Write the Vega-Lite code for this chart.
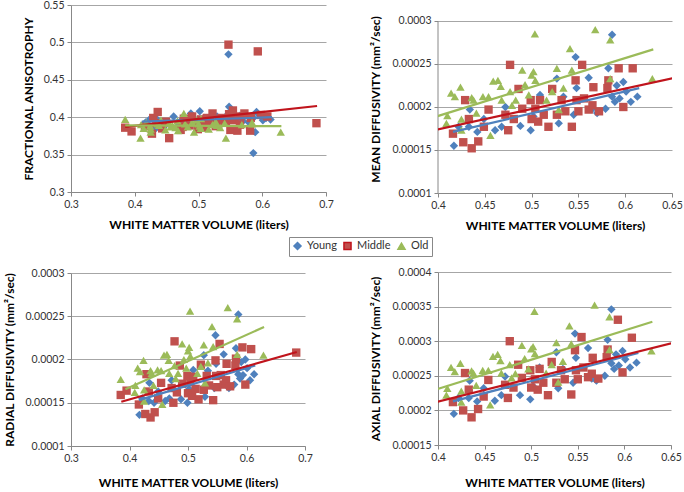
{
"$schema":"https://vega.github.io/schema/vega-lite/v6.json",
"padding":{"left":3,"top":0,"right":2,"bottom":0},
"spacing":35,
"datasets":{
"subjects":[
{"g":"Young","wmv":0.417,"fa":0.393,"md":0.000155,"rd":0.000136,"ad":0.000195},
{"g":"Young","wmv":0.422,"fa":0.396,"md":0.000177,"rd":0.000155,"ad":0.000218},
{"g":"Young","wmv":0.434,"fa":0.398,"md":0.000197,"rd":0.000173,"ad":0.000243},
{"g":"Young","wmv":0.433,"fa":0.385,"md":0.000177,"rd":0.000152,"ad":0.000218},
{"g":"Young","wmv":0.442,"fa":0.392,"md":0.000171,"rd":0.000150,"ad":0.000213},
{"g":"Young","wmv":0.449,"fa":0.390,"md":0.000186,"rd":0.000163,"ad":0.000232},
{"g":"Young","wmv":0.461,"fa":0.401,"md":0.000173,"rd":0.000152,"ad":0.000214},
{"g":"Young","wmv":0.468,"fa":0.389,"md":0.000177,"rd":0.000155,"ad":0.000222},
{"g":"Young","wmv":0.472,"fa":0.395,"md":0.000200,"rd":0.000176,"ad":0.000249},
{"g":"Young","wmv":0.488,"fa":0.405,"md":0.000178,"rd":0.000154,"ad":0.000222},
{"g":"Young","wmv":0.499,"fa":0.397,"md":0.000173,"rd":0.000150,"ad":0.000216},
{"g":"Young","wmv":0.502,"fa":0.408,"md":0.000189,"rd":0.000166,"ad":0.000235},
{"g":"Young","wmv":0.509,"fa":0.399,"md":0.000214,"rd":0.000188,"ad":0.000262},
{"g":"Young","wmv":0.527,"fa":0.392,"md":0.000233,"rd":0.000205,"ad":0.000284},
{"g":"Young","wmv":0.529,"fa":0.401,"md":0.000181,"rd":0.000157,"ad":0.000232},
{"g":"Young","wmv":0.534,"fa":0.396,"md":0.000212,"rd":0.000187,"ad":0.000260},
{"g":"Young","wmv":0.545,"fa":0.403,"md":0.000191,"rd":0.000167,"ad":0.000240},
{"g":"Young","wmv":0.547,"fa":0.484,"md":0.000258,"rd":0.000228,"ad":0.000311},
{"g":"Young","wmv":0.548,"fa":0.414,"md":0.000222,"rd":0.000195,"ad":0.000276},
{"g":"Young","wmv":0.561,"fa":0.398,"md":0.000234,"rd":0.000206,"ad":0.000290},
{"g":"Young","wmv":0.565,"fa":0.402,"md":0.000198,"rd":0.000172,"ad":0.000246},
{"g":"Young","wmv":0.570,"fa":0.395,"md":0.000193,"rd":0.000167,"ad":0.000243},
{"g":"Young","wmv":0.579,"fa":0.393,"md":0.000198,"rd":0.000171,"ad":0.000250},
{"g":"Young","wmv":0.582,"fa":0.400,"md":0.000245,"rd":0.000213,"ad":0.000302},
{"g":"Young","wmv":0.586,"fa":0.352,"md":0.000284,"rd":0.000252,"ad":0.000346},
{"g":"Young","wmv":0.586,"fa":0.399,"md":0.000212,"rd":0.000183,"ad":0.000268},
{"g":"Young","wmv":0.589,"fa":0.380,"md":0.000206,"rd":0.000178,"ad":0.000260},
{"g":"Young","wmv":0.591,"fa":0.407,"md":0.000225,"rd":0.000197,"ad":0.000281},
{"g":"Young","wmv":0.594,"fa":0.404,"md":0.000210,"rd":0.000182,"ad":0.000265},
{"g":"Young","wmv":0.598,"fa":0.401,"md":0.000229,"rd":0.000200,"ad":0.000286},
{"g":"Young","wmv":0.601,"fa":0.396,"md":0.000218,"rd":0.000190,"ad":0.000274},
{"g":"Young","wmv":0.606,"fa":0.399,"md":0.000206,"rd":0.000176,"ad":0.000262},
{"g":"Young","wmv":0.613,"fa":0.397,"md":0.000212,"rd":0.000183,"ad":0.000269},
{"g":"Middle","wmv":0.385,"fa":0.386,"md":0.000178,"rd":0.000159,"ad":0.000216},
{"g":"Middle","wmv":0.395,"fa":0.381,"md":0.000183,"rd":0.000164,"ad":0.000222},
{"g":"Middle","wmv":0.416,"fa":0.388,"md":0.000169,"rd":0.000148,"ad":0.000212},
{"g":"Middle","wmv":0.427,"fa":0.378,"md":0.000159,"rd":0.000137,"ad":0.000200},
{"g":"Middle","wmv":0.429,"fa":0.399,"md":0.000208,"rd":0.000183,"ad":0.000254},
{"g":"Middle","wmv":0.436,"fa":0.407,"md":0.000152,"rd":0.000133,"ad":0.000190},
{"g":"Middle","wmv":0.433,"fa":0.392,"md":0.000186,"rd":0.000163,"ad":0.000230},
{"g":"Middle","wmv":0.443,"fa":0.385,"md":0.000160,"rd":0.000139,"ad":0.000202},
{"g":"Middle","wmv":0.449,"fa":0.394,"md":0.000177,"rd":0.000155,"ad":0.000220},
{"g":"Middle","wmv":0.454,"fa":0.372,"md":0.000197,"rd":0.000173,"ad":0.000244},
{"g":"Middle","wmv":0.475,"fa":0.387,"md":0.000173,"rd":0.000150,"ad":0.000218},
{"g":"Middle","wmv":0.477,"fa":0.398,"md":0.000249,"rd":0.000221,"ad":0.000300},
{"g":"Middle","wmv":0.472,"fa":0.383,"md":0.000191,"rd":0.000167,"ad":0.000237},
{"g":"Middle","wmv":0.481,"fa":0.395,"md":0.000186,"rd":0.000162,"ad":0.000233},
{"g":"Middle","wmv":0.486,"fa":0.389,"md":0.000221,"rd":0.000193,"ad":0.000266},
{"g":"Middle","wmv":0.490,"fa":0.401,"md":0.000198,"rd":0.000172,"ad":0.000247},
{"g":"Middle","wmv":0.499,"fa":0.384,"md":0.000208,"rd":0.000181,"ad":0.000258},
{"g":"Middle","wmv":0.500,"fa":0.393,"md":0.000186,"rd":0.000161,"ad":0.000233},
{"g":"Middle","wmv":0.504,"fa":0.397,"md":0.000198,"rd":0.000174,"ad":0.000245},
{"g":"Middle","wmv":0.507,"fa":0.386,"md":0.000183,"rd":0.000158,"ad":0.000230},
{"g":"Middle","wmv":0.509,"fa":0.391,"md":0.000208,"rd":0.000180,"ad":0.000260},
{"g":"Middle","wmv":0.513,"fa":0.399,"md":0.000191,"rd":0.000166,"ad":0.000240},
{"g":"Middle","wmv":0.518,"fa":0.395,"md":0.000177,"rd":0.000154,"ad":0.000222},
{"g":"Middle","wmv":0.522,"fa":0.405,"md":0.000221,"rd":0.000194,"ad":0.000270},
{"g":"Middle","wmv":0.527,"fa":0.388,"md":0.000191,"rd":0.000165,"ad":0.000240},
{"g":"Middle","wmv":0.532,"fa":0.392,"md":0.000208,"rd":0.000181,"ad":0.000258},
{"g":"Middle","wmv":0.536,"fa":0.399,"md":0.000195,"rd":0.000170,"ad":0.000245},
{"g":"Middle","wmv":0.543,"fa":0.394,"md":0.000177,"rd":0.000153,"ad":0.000223},
{"g":"Middle","wmv":0.547,"fa":0.497,"md":0.000231,"rd":0.000199,"ad":0.000287},
{"g":"Middle","wmv":0.548,"fa":0.404,"md":0.000208,"rd":0.000181,"ad":0.000258},
{"g":"Middle","wmv":0.550,"fa":0.383,"md":0.000195,"rd":0.000168,"ad":0.000245},
{"g":"Middle","wmv":0.554,"fa":0.409,"md":0.000249,"rd":0.000218,"ad":0.000306},
{"g":"Middle","wmv":0.556,"fa":0.396,"md":0.000210,"rd":0.000182,"ad":0.000262},
{"g":"Middle","wmv":0.561,"fa":0.382,"md":0.000197,"rd":0.000171,"ad":0.000248},
{"g":"Middle","wmv":0.566,"fa":0.401,"md":0.000223,"rd":0.000195,"ad":0.000276},
{"g":"Middle","wmv":0.565,"fa":0.390,"md":0.000202,"rd":0.000176,"ad":0.000253},
{"g":"Middle","wmv":0.572,"fa":0.405,"md":0.000195,"rd":0.000169,"ad":0.000246},
{"g":"Middle","wmv":0.581,"fa":0.382,"md":0.000222,"rd":0.000193,"ad":0.000277},
{"g":"Middle","wmv":0.582,"fa":0.399,"md":0.000231,"rd":0.000201,"ad":0.000288},
{"g":"Middle","wmv":0.593,"fa":0.488,"md":0.000245,"rd":0.000214,"ad":0.000331},
{"g":"Middle","wmv":0.598,"fa":0.403,"md":0.000200,"rd":0.000171,"ad":0.000255},
{"g":"Middle","wmv":0.608,"fa":0.401,"md":0.000245,"rd":0.000212,"ad":0.000305},
{"g":"Middle","wmv":0.685,"fa":0.392,"md":0.000240,"rd":0.000208,"ad":0.000300},
{"g":"Old","wmv":0.385,"fa":0.397,"md":0.000200,"rd":0.000177,"ad":0.000240},
{"g":"Old","wmv":0.409,"fa":0.372,"md":0.000181,"rd":0.000162,"ad":0.000222},
{"g":"Old","wmv":0.410,"fa":0.390,"md":0.000190,"rd":0.000170,"ad":0.000232},
{"g":"Old","wmv":0.414,"fa":0.385,"md":0.000216,"rd":0.000190,"ad":0.000262},
{"g":"Old","wmv":0.418,"fa":0.393,"md":0.000212,"rd":0.000186,"ad":0.000256},
{"g":"Old","wmv":0.424,"fa":0.388,"md":0.000223,"rd":0.000199,"ad":0.000268},
{"g":"Old","wmv":0.425,"fa":0.380,"md":0.000186,"rd":0.000165,"ad":0.000228},
{"g":"Old","wmv":0.425,"fa":0.384,"md":0.000173,"rd":0.000152,"ad":0.000212},
{"g":"Old","wmv":0.436,"fa":0.391,"md":0.000211,"rd":0.000187,"ad":0.000257},
{"g":"Old","wmv":0.438,"fa":0.389,"md":0.000208,"rd":0.000184,"ad":0.000254},
{"g":"Old","wmv":0.441,"fa":0.396,"md":0.000193,"rd":0.000170,"ad":0.000236},
{"g":"Old","wmv":0.448,"fa":0.383,"md":0.000212,"rd":0.000188,"ad":0.000258},
{"g":"Old","wmv":0.454,"fa":0.392,"md":0.000212,"rd":0.000187,"ad":0.000258},
{"g":"Old","wmv":0.456,"fa":0.387,"md":0.000167,"rd":0.000148,"ad":0.000208},
{"g":"Old","wmv":0.459,"fa":0.389,"md":0.000230,"rd":0.000205,"ad":0.000278},
{"g":"Old","wmv":0.464,"fa":0.386,"md":0.000231,"rd":0.000206,"ad":0.000281},
{"g":"Old","wmv":0.467,"fa":0.395,"md":0.000224,"rd":0.000199,"ad":0.000272},
{"g":"Old","wmv":0.468,"fa":0.382,"md":0.000208,"rd":0.000184,"ad":0.000254},
{"g":"Old","wmv":0.477,"fa":0.405,"md":0.000218,"rd":0.000193,"ad":0.000266},
{"g":"Old","wmv":0.479,"fa":0.391,"md":0.000202,"rd":0.000178,"ad":0.000247},
{"g":"Old","wmv":0.483,"fa":0.387,"md":0.000208,"rd":0.000184,"ad":0.000253},
{"g":"Old","wmv":0.490,"fa":0.393,"md":0.000243,"rd":0.000218,"ad":0.000294},
{"g":"Old","wmv":0.493,"fa":0.380,"md":0.000226,"rd":0.000200,"ad":0.000275},
{"g":"Old","wmv":0.497,"fa":0.396,"md":0.000214,"rd":0.000190,"ad":0.000260},
{"g":"Old","wmv":0.500,"fa":0.391,"md":0.000237,"rd":0.000210,"ad":0.000289},
{"g":"Old","wmv":0.502,"fa":0.388,"md":0.000241,"rd":0.000214,"ad":0.000292},
{"g":"Old","wmv":0.5035,"fa":0.385,"md":0.000285,"rd":0.000256,"ad":0.000343},
{"g":"Old","wmv":0.504,"fa":0.398,"md":0.000231,"rd":0.000204,"ad":0.000282},
{"g":"Old","wmv":0.516,"fa":0.384,"md":0.000208,"rd":0.000184,"ad":0.000254},
{"g":"Old","wmv":0.522,"fa":0.390,"md":0.000218,"rd":0.000192,"ad":0.000266},
{"g":"Old","wmv":0.527,"fa":0.394,"md":0.000245,"rd":0.000217,"ad":0.000298},
{"g":"Old","wmv":0.529,"fa":0.389,"md":0.000197,"rd":0.000173,"ad":0.000241},
{"g":"Old","wmv":0.534,"fa":0.386,"md":0.000222,"rd":0.000196,"ad":0.000271},
{"g":"Old","wmv":0.541,"fa":0.392,"md":0.000268,"rd":0.000238,"ad":0.000322},
{"g":"Old","wmv":0.543,"fa":0.372,"md":0.000243,"rd":0.000215,"ad":0.000296},
{"g":"Old","wmv":0.568,"fa":0.390,"md":0.000290,"rd":0.000260,"ad":0.000352},
{"g":"Old","wmv":0.584,"fa":0.393,"md":0.000278,"rd":0.000247,"ad":0.000335},
{"g":"Old","wmv":0.584,"fa":0.391,"md":0.000233,"rd":0.000206,"ad":0.000288},
{"g":"Old","wmv":0.629,"fa":0.380,"md":0.000233,"rd":0.000205,"ad":0.000286}
],
"trends":[
{"p":"FA","g":"Young","wmv":0.411,"v":0.394},{"p":"FA","g":"Young","wmv":0.615,"v":0.400},
{"p":"FA","g":"Middle","wmv":0.385,"v":0.387},{"p":"FA","g":"Middle","wmv":0.686,"v":0.415},
{"p":"FA","g":"Old","wmv":0.385,"v":0.389},{"p":"FA","g":"Old","wmv":0.630,"v":0.388},
{"p":"MD","g":"Young","wmv":0.416,"v":0.000171},{"p":"MD","g":"Young","wmv":0.615,"v":0.000222},
{"p":"MD","g":"Middle","wmv":0.385,"v":0.0001704},{"p":"MD","g":"Middle","wmv":0.685,"v":0.0002417},
{"p":"MD","g":"Old","wmv":0.385,"v":0.0001845},{"p":"MD","g":"Old","wmv":0.630,"v":0.000267},
{"p":"RD","g":"Young","wmv":0.416,"v":0.000153},{"p":"RD","g":"Young","wmv":0.615,"v":0.000193},
{"p":"RD","g":"Middle","wmv":0.386,"v":0.0001512},{"p":"RD","g":"Middle","wmv":0.686,"v":0.0002087},
{"p":"RD","g":"Old","wmv":0.393,"v":0.0001655},{"p":"RD","g":"Old","wmv":0.630,"v":0.0002376},
{"p":"AD","g":"Young","wmv":0.416,"v":0.000213},{"p":"AD","g":"Young","wmv":0.615,"v":0.000283},
{"p":"AD","g":"Middle","wmv":0.385,"v":0.0002075},{"p":"AD","g":"Middle","wmv":0.685,"v":0.0003088},
{"p":"AD","g":"Old","wmv":0.385,"v":0.0002247},{"p":"AD","g":"Old","wmv":0.630,"v":0.000328}
]
},
"hconcat":[
{"spacing":37,"vconcat":[
{
"width":255,"height":187,
"layer":[
{"data":{"name":"subjects"},
"mark":{"type":"point","filled":true,"opacity":1,"size":70},
"encoding":{
"x":{"field":"wmv","type":"quantitative","scale":{"domain":[0.3,0.7],"nice":false,"zero":false},"axis":{"values":[0.3,0.4,0.5,0.6,0.7],"tickCount":20,"title":"WHITE MATTER VOLUME (liters)","titlePadding":10}},
"y":{"field":"fa","type":"quantitative","scale":{"domain":[0.3,0.55],"nice":false,"zero":false},"axis":{"values":[0.3,0.35,0.4,0.45,0.5,0.55],"tickCount":20,"title":"FRACTIONAL ANISOTROPHY","titlePadding":8}},
"color":{"field":"g","type":"nominal","scale":{"domain":["Young","Middle","Old"],"range":["#4F81BD","#C0504D","#9BBB59"]},"legend":{"title":null,"orient":"none","legendX":218,"legendY":232,"direction":"horizontal"}},
"shape":{"field":"g","type":"nominal","scale":{"domain":["Young","Middle","Old"],"range":["diamond","square","triangle-up"]},"legend":{"title":null,"orient":"none","legendX":218,"legendY":232,"direction":"horizontal"}}
}},
{"data":{"name":"trends"},"transform":[{"filter":"datum.p == 'FA'"}],
"mark":{"type":"line","strokeWidth":2.2,"clip":true},
"encoding":{
"x":{"field":"wmv","type":"quantitative","title":"WHITE MATTER VOLUME (liters)"},
"y":{"field":"v","type":"quantitative","title":"FRACTIONAL ANISOTROPHY"},
"stroke":{"field":"g","type":"nominal","sort":null,"scale":{"domain":["Young","Middle","Old"],"range":["#4F81BD","#C0141C","#9BBB59"]},"legend":null}
}}
]
},
{
"width":234,"height":173,
"layer":[
{"data":{"name":"subjects"},
"mark":{"type":"point","filled":true,"opacity":1,"size":70},
"encoding":{
"x":{"field":"wmv","type":"quantitative","scale":{"domain":[0.3,0.7],"nice":false,"zero":false},"axis":{"values":[0.3,0.4,0.5,0.6,0.7],"tickCount":20,"title":"WHITE MATTER VOLUME (liters)","titlePadding":14}},
"y":{"field":"rd","type":"quantitative","scale":{"domain":[0.0001,0.0003],"nice":false,"zero":false},"axis":{"values":[0.0001,0.00015,0.0002,0.00025,0.0003],"tickCount":20,"title":"RADIAL DIFFUSIVITY (mm²/sec)","titlePadding":8}},
"color":{"field":"g","type":"nominal","scale":{"domain":["Young","Middle","Old"],"range":["#4F81BD","#C0504D","#9BBB59"]},"legend":{"title":null,"orient":"none","legendX":218,"legendY":232,"direction":"horizontal"}},
"shape":{"field":"g","type":"nominal","scale":{"domain":["Young","Middle","Old"],"range":["diamond","square","triangle-up"]},"legend":{"title":null,"orient":"none","legendX":218,"legendY":232,"direction":"horizontal"}}
}},
{"data":{"name":"trends"},"transform":[{"filter":"datum.p == 'RD'"}],
"mark":{"type":"line","strokeWidth":2.2,"clip":true},
"encoding":{
"x":{"field":"wmv","type":"quantitative","title":"WHITE MATTER VOLUME (liters)"},
"y":{"field":"v","type":"quantitative","title":"RADIAL DIFFUSIVITY (mm²/sec)"},
"stroke":{"field":"g","type":"nominal","sort":null,"scale":{"domain":["Young","Middle","Old"],"range":["#4F81BD","#C0141C","#9BBB59"]},"legend":null}
}}
]
}
]},
{"spacing":35,"vconcat":[
{
"width":234,"height":188,
"layer":[
{"data":{"values":[{}]},
"mark":{"type":"rule","color":"#888888","strokeWidth":1},
"encoding":{"x":{"datum":0.4,"type":"quantitative"},"y":{"datum":0.0001,"type":"quantitative"},"y2":{"datum":0.0003}}},
{"data":{"name":"subjects"},"transform":[{"filter":"datum.wmv >= 0.4 && datum.wmv <= 0.65"}],
"mark":{"type":"point","filled":true,"opacity":1,"size":70},
"encoding":{
"x":{"field":"wmv","type":"quantitative","scale":{"domain":[0.4,0.65],"nice":false,"zero":false},"axis":{"values":[0.4,0.45,0.5,0.55,0.6,0.65],"tickCount":20,"title":"WHITE MATTER VOLUME (liters)","titlePadding":10}},
"y":{"field":"md","type":"quantitative","scale":{"domain":[0.0001,0.0003186],"nice":false,"zero":false},"axis":{"values":[0.0001,0.00015,0.0002,0.00025,0.0003],"tickCount":20,"domain":false,"title":"MEAN DIFFUSIVITY (mm²/sec)","titlePadding":9}},
"color":{"field":"g","type":"nominal","scale":{"domain":["Young","Middle","Old"],"range":["#4F81BD","#C0504D","#9BBB59"]},"legend":{"title":null,"orient":"none","legendX":218,"legendY":232,"direction":"horizontal"}},
"shape":{"field":"g","type":"nominal","scale":{"domain":["Young","Middle","Old"],"range":["diamond","square","triangle-up"]},"legend":{"title":null,"orient":"none","legendX":218,"legendY":232,"direction":"horizontal"}}
}},
{"data":{"name":"trends"},"transform":[{"filter":"datum.p == 'MD'"}],
"mark":{"type":"line","strokeWidth":2.2,"clip":true},
"encoding":{
"x":{"field":"wmv","type":"quantitative","title":"WHITE MATTER VOLUME (liters)"},
"y":{"field":"v","type":"quantitative","title":"MEAN DIFFUSIVITY (mm²/sec)"},
"stroke":{"field":"g","type":"nominal","sort":null,"scale":{"domain":["Young","Middle","Old"],"range":["#4F81BD","#C0141C","#9BBB59"]},"legend":null}
}}
]
},
{
"width":233,"height":173,
"layer":[
{"data":{"name":"subjects"},"transform":[{"filter":"datum.wmv >= 0.4 && datum.wmv <= 0.65"}],
"mark":{"type":"point","filled":true,"opacity":1,"size":70},
"encoding":{
"x":{"field":"wmv","type":"quantitative","scale":{"domain":[0.4,0.65],"nice":false,"zero":false},"axis":{"values":[0.4,0.45,0.5,0.55,0.6,0.65],"tickCount":20,"title":"WHITE MATTER VOLUME (liters)","titlePadding":15}},
"y":{"field":"ad","type":"quantitative","scale":{"domain":[0.00015,0.0004],"nice":false,"zero":false},"axis":{"values":[0.00015,0.0002,0.00025,0.0003,0.00035,0.0004],"tickCount":20,"title":"AXIAL DIFFUSIVITY (mm²/sec)","titlePadding":9}},
"color":{"field":"g","type":"nominal","scale":{"domain":["Young","Middle","Old"],"range":["#4F81BD","#C0504D","#9BBB59"]},"legend":{"title":null,"orient":"none","legendX":218,"legendY":232,"direction":"horizontal"}},
"shape":{"field":"g","type":"nominal","scale":{"domain":["Young","Middle","Old"],"range":["diamond","square","triangle-up"]},"legend":{"title":null,"orient":"none","legendX":218,"legendY":232,"direction":"horizontal"}}
}},
{"data":{"name":"trends"},"transform":[{"filter":"datum.p == 'AD'"}],
"mark":{"type":"line","strokeWidth":2.2,"clip":true},
"encoding":{
"x":{"field":"wmv","type":"quantitative","title":"WHITE MATTER VOLUME (liters)"},
"y":{"field":"v","type":"quantitative","title":"AXIAL DIFFUSIVITY (mm²/sec)"},
"stroke":{"field":"g","type":"nominal","sort":null,"scale":{"domain":["Young","Middle","Old"],"range":["#4F81BD","#C0141C","#9BBB59"]},"legend":null}
}}
]
}
]}
],
"config":{
"font":"Lato",
"view":{"stroke":null},
"axis":{"labelFont":"Lato","labelFontSize":10.5,"labelColor":"#333333","titleFont":"Lato","titleFontSize":12,"titleFontWeight":"bold","titleColor":"#000000","domainColor":"#888888","tickColor":"#888888","tickSize":4,"gridColor":"#a6a6a6","labelPadding":3,"format":"~g","labelFlush":false,"labelOverlap":false},
"axisX":{"grid":false},
"axisY":{"grid":true},
"legend":{"strokeColor":"#888888","padding":3,"labelFont":"Lato","labelFontSize":11,"labelColor":"#333333","symbolSize":50,"columnPadding":3,"symbolOpacity":1}
}
}
